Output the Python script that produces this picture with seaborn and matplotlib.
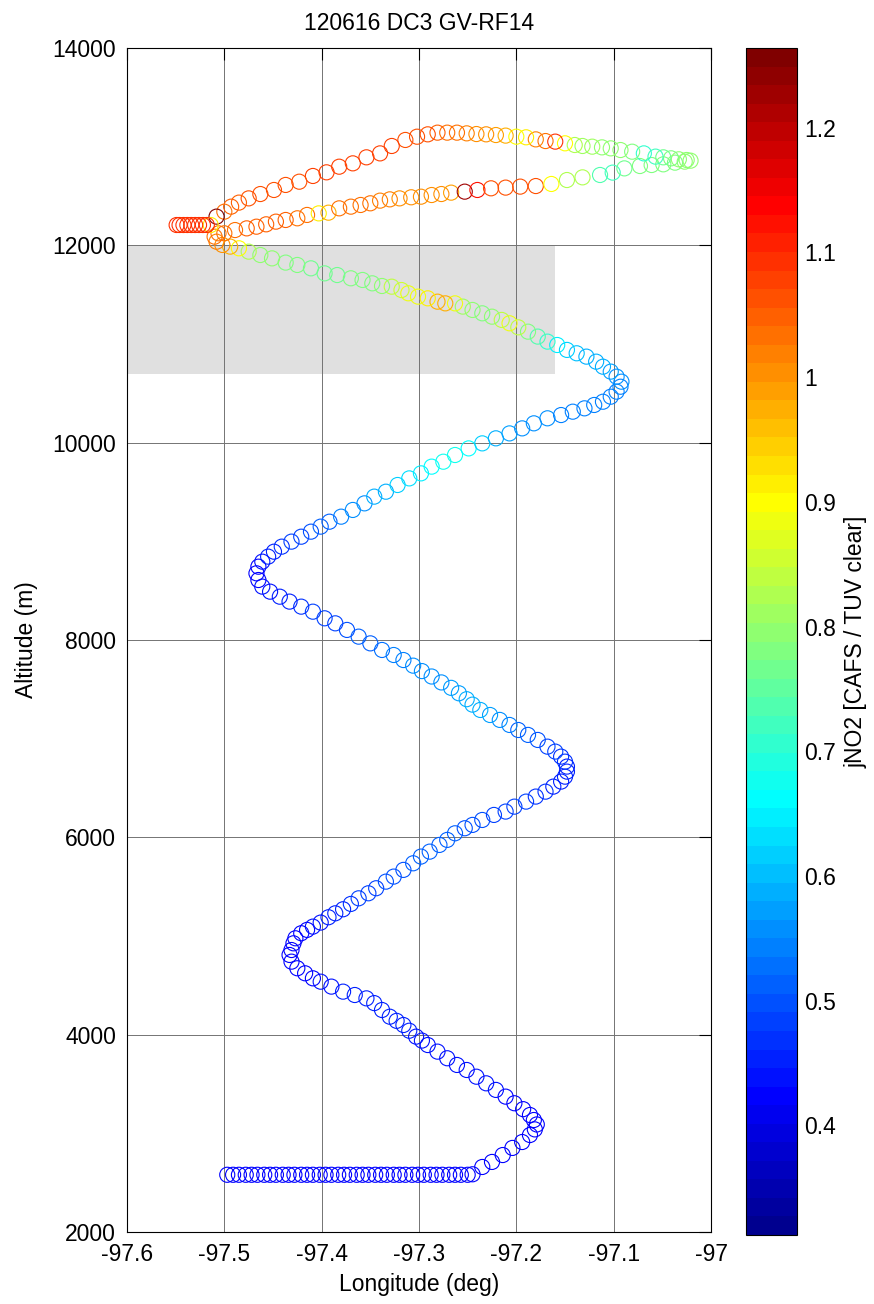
import numpy as np
import pandas as pd
import matplotlib
matplotlib.use('Agg')
import matplotlib.pyplot as plt
import seaborn as sns
from matplotlib.colors import ListedColormap, Normalize
from matplotlib.patches import Rectangle
import matplotlib.cm as cm

# flight legs: (longitude, altitude m, jNO2 ratio)
leg_bottom = [
    (-97.497, 2580, 0.42), (-97.491, 2580, 0.42), (-97.485, 2580, 0.42), (-97.478, 2580, 0.42),
    (-97.472, 2580, 0.42), (-97.466, 2580, 0.42), (-97.459, 2580, 0.42), (-97.453, 2580, 0.42),
    (-97.447, 2580, 0.42), (-97.440, 2580, 0.42), (-97.434, 2580, 0.42), (-97.428, 2580, 0.42),
    (-97.421, 2580, 0.42), (-97.415, 2580, 0.42), (-97.409, 2580, 0.42), (-97.402, 2580, 0.42),
    (-97.396, 2580, 0.42), (-97.390, 2580, 0.42), (-97.383, 2580, 0.42), (-97.377, 2580, 0.42),
    (-97.371, 2580, 0.42), (-97.364, 2580, 0.42), (-97.358, 2580, 0.42), (-97.352, 2580, 0.42),
    (-97.345, 2580, 0.42), (-97.339, 2580, 0.42), (-97.333, 2580, 0.42), (-97.326, 2580, 0.42),
    (-97.320, 2580, 0.42), (-97.314, 2580, 0.42), (-97.307, 2580, 0.42), (-97.301, 2580, 0.42),
    (-97.295, 2580, 0.42), (-97.288, 2580, 0.42), (-97.282, 2580, 0.42), (-97.276, 2580, 0.42),
    (-97.269, 2580, 0.42), (-97.263, 2580, 0.42), (-97.257, 2580, 0.42), (-97.250, 2580, 0.42),
    (-97.245, 2585, 0.42),
    (-97.235, 2659, 0.42), (-97.225, 2710, 0.42), (-97.214, 2780, 0.43), (-97.204, 2852, 0.43),
    (-97.194, 2912, 0.43), (-97.186, 2983, 0.43), (-97.181, 3040, 0.43), (-97.179, 3090, 0.43),
    (-97.182, 3135, 0.43), (-97.186, 3186, 0.43), (-97.193, 3245, 0.43),
]

leg_b = [
    (-97.202, 3305, 0.43), (-97.211, 3372, 0.43), (-97.221, 3440, 0.44), (-97.231, 3507, 0.44),
    (-97.241, 3574, 0.44), (-97.251, 3642, 0.44), (-97.261, 3693, 0.44), (-97.271, 3761, 0.44),
    (-97.281, 3828, 0.44), (-97.291, 3895, 0.44), (-97.297, 3940, 0.44), (-97.303, 3980, 0.44),
    (-97.310, 4040, 0.45), (-97.316, 4098, 0.45), (-97.323, 4140, 0.45), (-97.330, 4182, 0.45),
    (-97.338, 4250, 0.45), (-97.346, 4320, 0.45), (-97.354, 4368, 0.45), (-97.366, 4402, 0.45),
    (-97.378, 4436, 0.45), (-97.390, 4487, 0.44), (-97.401, 4537, 0.44), (-97.409, 4571, 0.43),
    (-97.417, 4622, 0.43), (-97.425, 4673, 0.43), (-97.431, 4740, 0.42), (-97.433, 4808, 0.42),
    (-97.431, 4858, 0.42), (-97.429, 4926, 0.42),
]

leg_c = [
    (-97.427, 4977, 0.42), (-97.421, 5028, 0.43), (-97.415, 5062, 0.43), (-97.409, 5095, 0.44),
    (-97.401, 5136, 0.44), (-97.393, 5190, 0.45), (-97.386, 5230, 0.45), (-97.378, 5271, 0.46),
    (-97.370, 5325, 0.47), (-97.362, 5382, 0.48), (-97.352, 5433, 0.49), (-97.344, 5484, 0.49),
    (-97.334, 5551, 0.50), (-97.326, 5602, 0.50), (-97.316, 5670, 0.50), (-97.306, 5737, 0.51),
    (-97.298, 5805, 0.51), (-97.289, 5855, 0.51), (-97.279, 5923, 0.51), (-97.271, 5974, 0.51),
    (-97.263, 6041, 0.51), (-97.253, 6092, 0.50), (-97.245, 6126, 0.50), (-97.235, 6176, 0.50),
    (-97.223, 6227, 0.49), (-97.211, 6261, 0.49), (-97.202, 6311, 0.48), (-97.190, 6362, 0.48),
    (-97.180, 6413, 0.47), (-97.170, 6463, 0.47), (-97.162, 6514, 0.46), (-97.154, 6565, 0.46),
    (-97.150, 6615, 0.46), (-97.148, 6666, 0.46), (-97.148, 6717, 0.46), (-97.150, 6767, 0.47),
    (-97.154, 6818, 0.47), (-97.160, 6869, 0.48),
]

leg_d = [
    (-97.168, 6919, 0.49), (-97.178, 6987, 0.50), (-97.188, 7038, 0.51), (-97.198, 7088, 0.52),
    (-97.207, 7139, 0.54), (-97.217, 7190, 0.56), (-97.227, 7240, 0.57), (-97.237, 7291, 0.58),
    (-97.245, 7345, 0.58), (-97.251, 7400, 0.58), (-97.259, 7460, 0.57), (-97.267, 7515, 0.57),
    (-97.277, 7570, 0.56), (-97.287, 7630, 0.56), (-97.297, 7685, 0.55), (-97.306, 7740, 0.55),
    (-97.316, 7797, 0.54), (-97.326, 7848, 0.54), (-97.338, 7899, 0.53), (-97.350, 7966, 0.52),
    (-97.362, 8034, 0.51), (-97.374, 8102, 0.50), (-97.386, 8169, 0.49), (-97.397, 8220, 0.48),
    (-97.409, 8287, 0.48), (-97.421, 8338, 0.47), (-97.433, 8389, 0.46), (-97.443, 8439, 0.45),
    (-97.453, 8490, 0.44), (-97.461, 8541, 0.44), (-97.465, 8608, 0.43), (-97.467, 8676, 0.43),
    (-97.465, 8743, 0.43), (-97.461, 8794, 0.44), (-97.455, 8845, 0.45),
]

leg_e = [
    (-97.449, 8895, 0.46), (-97.441, 8946, 0.47), (-97.431, 8997, 0.48), (-97.421, 9047, 0.49),
    (-97.411, 9098, 0.50), (-97.401, 9149, 0.51), (-97.392, 9199, 0.52), (-97.380, 9250, 0.54),
    (-97.368, 9318, 0.55), (-97.356, 9385, 0.56), (-97.346, 9453, 0.58), (-97.334, 9503, 0.59),
    (-97.322, 9571, 0.61), (-97.310, 9638, 0.63), (-97.298, 9689, 0.65), (-97.287, 9757, 0.66),
    (-97.275, 9807, 0.67), (-97.263, 9875, 0.67), (-97.249, 9942, 0.66), (-97.235, 9993, 0.62),
    (-97.221, 10044, 0.59), (-97.207, 10094, 0.57), (-97.194, 10145, 0.56), (-97.182, 10196, 0.55),
    (-97.168, 10247, 0.55), (-97.154, 10280, 0.54), (-97.142, 10314, 0.54), (-97.130, 10348, 0.54),
    (-97.120, 10382, 0.54), (-97.111, 10415, 0.54), (-97.103, 10466, 0.54), (-97.097, 10517, 0.54),
    (-97.093, 10567, 0.54), (-97.092, 10618, 0.55),
]

leg_f = [
    (-97.097, 10669, 0.56), (-97.103, 10720, 0.57), (-97.111, 10770, 0.58), (-97.118, 10821, 0.58),
    (-97.128, 10872, 0.59), (-97.138, 10906, 0.60), (-97.148, 10940, 0.62), (-97.158, 10990, 0.65),
    (-97.168, 11024, 0.70), (-97.178, 11075, 0.74), (-97.188, 11125, 0.78), (-97.198, 11169, 0.84),
    (-97.207, 11210, 0.88), (-97.215, 11244, 0.84), (-97.225, 11277, 0.79), (-97.235, 11311, 0.78),
    (-97.245, 11345, 0.79), (-97.255, 11379, 0.81), (-97.263, 11412, 0.88), (-97.273, 11412, 0.97),
    (-97.281, 11429, 0.98), (-97.291, 11463, 0.91), (-97.301, 11480, 0.89), (-97.311, 11514, 0.88),
    (-97.318, 11547, 0.86), (-97.328, 11581, 0.84), (-97.338, 11588, 0.79), (-97.348, 11615, 0.78),
    (-97.358, 11649, 0.78), (-97.370, 11666, 0.78), (-97.384, 11699, 0.77), (-97.397, 11716, 0.77),
    (-97.411, 11767, 0.77), (-97.425, 11801, 0.78), (-97.437, 11825, 0.78), (-97.451, 11868, 0.79),
    (-97.463, 11902, 0.80), (-97.475, 11936, 0.82), (-97.485, 11970, 0.90), (-97.494, 11987, 0.98),
    (-97.502, 12004, 1.00), (-97.508, 12037, 1.02), (-97.510, 12088, 1.03), (-97.506, 12122, 1.03),
]

leg_g = [
    (-97.500, 12122, 1.03), (-97.489, 12155, 1.04), (-97.477, 12172, 1.05), (-97.467, 12189, 1.05),
    (-97.457, 12213, 1.05), (-97.447, 12240, 1.05), (-97.437, 12257, 1.05), (-97.425, 12274, 1.04),
    (-97.415, 12308, 1.03), (-97.403, 12324, 0.92), (-97.393, 12331, 0.98), (-97.382, 12375, 1.03),
    (-97.370, 12392, 1.03), (-97.360, 12409, 1.03), (-97.350, 12426, 1.03), (-97.340, 12453, 1.02),
    (-97.330, 12466, 1.02), (-97.320, 12476, 1.01), (-97.308, 12487, 1.01), (-97.298, 12493, 1.01),
    (-97.287, 12510, 1.01), (-97.277, 12520, 1.00), (-97.267, 12534, 0.99), (-97.253, 12544, 1.22),
    (-97.240, 12561, 1.13), (-97.226, 12578, 1.07), (-97.211, 12585, 1.06), (-97.196, 12595, 1.06),
    (-97.180, 12601, 1.06), (-97.164, 12622, 0.90), (-97.148, 12662, 0.83), (-97.132, 12689, 0.82),
    (-97.114, 12713, 0.73), (-97.101, 12737, 0.72), (-97.089, 12780, 0.77), (-97.073, 12804, 0.78),
    (-97.061, 12814, 0.78), (-97.049, 12821, 0.78), (-97.037, 12838, 0.78), (-97.027, 12848, 0.79),
]

leg_h = [
    (-97.021, 12858, 0.79), (-97.025, 12865, 0.79), (-97.033, 12872, 0.79), (-97.041, 12882, 0.78),
    (-97.049, 12892, 0.76), (-97.057, 12899, 0.72), (-97.069, 12932, 0.71), (-97.081, 12949, 0.78),
    (-97.093, 12966, 0.80), (-97.103, 12983, 0.80), (-97.112, 12993, 0.80), (-97.122, 13000, 0.81),
    (-97.132, 13007, 0.81), (-97.140, 13017, 0.82), (-97.150, 13034, 0.90), (-97.160, 13051, 1.10),
    (-97.170, 13057, 1.04), (-97.180, 13074, 1.02), (-97.190, 13095, 0.92), (-97.200, 13101, 0.90),
    (-97.211, 13112, 0.97), (-97.221, 13118, 0.99), (-97.231, 13125, 1.00), (-97.241, 13128, 1.01),
    (-97.251, 13135, 1.02), (-97.261, 13142, 1.03), (-97.271, 13142, 1.04), (-97.281, 13142, 1.05),
    (-97.291, 13125, 1.06), (-97.302, 13101, 1.07), (-97.314, 13068, 1.07), (-97.328, 13007, 1.08),
    (-97.340, 12932, 1.08), (-97.354, 12892, 1.08), (-97.368, 12831, 1.08), (-97.382, 12797, 1.08),
    (-97.395, 12740, 1.08), (-97.409, 12703, 1.08), (-97.423, 12645, 1.07), (-97.437, 12612, 1.07),
    (-97.449, 12561, 1.07), (-97.463, 12520, 1.06), (-97.475, 12476, 1.06), (-97.485, 12433, 1.05),
    (-97.493, 12392, 1.05), (-97.500, 12341, 1.04), (-97.508, 12291, 1.25),
]

leg_west = [
    (-97.514, 12206, 0.92), (-97.518, 12206, 1.10), (-97.522, 12206, 1.10), (-97.526, 12206, 1.10),
    (-97.530, 12206, 1.10), (-97.534, 12206, 1.10), (-97.538, 12206, 1.10), (-97.542, 12206, 1.10),
    (-97.546, 12206, 1.10), (-97.549, 12206, 1.10),
]

xticks = [-97.6, -97.5, -97.4, -97.3, -97.2, -97.1, -97.0]
xticklabels = ['-97.6', '-97.5', '-97.4', '-97.3', '-97.2', '-97.1', '-97']
yticks = [2000, 4000, 6000, 8000, 10000, 12000, 14000]
cticks = [0.4, 0.5, 0.6, 0.7, 0.8, 0.9, 1.0, 1.1, 1.2]
cticklabels = ['0.4', '0.5', '0.6', '0.7', '0.8', '0.9', '1', '1.1', '1.2']
clim = (0.312, 1.264)
shade_lon = (-97.6, -97.16)
shade_alt = (10700, 12000)

legs = [leg_bottom, leg_b, leg_c, leg_d, leg_e, leg_f, leg_g, leg_h, leg_west]
df = pd.DataFrame([p for leg in legs for p in leg], columns=['lon', 'alt', 'jno2'])

sns.set_theme(style='white')
plt.rcParams['font.family'] = ['Liberation Sans', 'DejaVu Sans']
plt.rcParams['text.color'] = 'black'
plt.rcParams['axes.labelcolor'] = 'black'
fs = 16.5


def matlab_jet(n=64):
    # same construction as MATLAB's jet(n)
    m = int(np.ceil(n / 4))
    u = np.concatenate([np.arange(1, m + 1) / m, np.ones(m - 1), np.arange(m, 0, -1) / m])
    g = int(np.ceil(m / 2)) - (1 if n % 4 == 1 else 0) + np.arange(1, len(u) + 1) - 1
    r = g + m
    b = g - m
    J = np.zeros((n, 3))
    for col, idx in ((0, r), (1, g), (2, b)):
        ok = (idx >= 0) & (idx < n)
        J[idx[ok], col] = u[ok]
    return ListedColormap(J)


cmap = matlab_jet(64)

fig = plt.figure(figsize=(8.74, 13.04), dpi=100)
ax = fig.add_axes([127 / 874, 72 / 1304, 584 / 874, 1184 / 1304])
cax = fig.add_axes([746 / 874, 69 / 1304, 51 / 874, 1187 / 1304])

# shaded altitude band
ax.add_patch(Rectangle((shade_lon[0], shade_alt[0]), shade_lon[1] - shade_lon[0],
                       shade_alt[1] - shade_alt[0], facecolor='#e0e0e0', edgecolor='none', zorder=0.2))

sns.scatterplot(data=df, x='lon', y='alt', hue='jno2', palette=cmap, hue_norm=clim,
                legend=False, ax=ax, s=118, marker='o', linewidth=0.8, zorder=3)
pts = ax.collections[-1]
pts.set_edgecolors(pts.get_facecolors())
pts.set_facecolors('none')

ax.set_xlim(-97.6, -97.0)
ax.set_ylim(2000, 14000)
ax.set_xticks(xticks)
ax.set_xticklabels(xticklabels)
ax.set_yticks(yticks)
ax.set_axisbelow(True)
ax.grid(True, color='0.45', linewidth=0.7)
ax.tick_params(direction='in', length=8.5, width=0.8, top=True, right=True,
               labelsize=fs, pad=8, colors='black')
for sp in ax.spines.values():
    sp.set_color('black')
    sp.set_linewidth(0.8)
ax.set_xlabel('Longitude (deg)', fontsize=fs, labelpad=5)
ax.set_ylabel('Altitude (m)', fontsize=fs, labelpad=10)
ax.set_title('120616 DC3 GV-RF14', fontsize=fs, pad=13)

sm = cm.ScalarMappable(norm=Normalize(*clim), cmap=cmap)
cb = fig.colorbar(sm, cax=cax)
cb.set_ticks(cticks)
cb.set_ticklabels(cticklabels)
cb.outline.set_edgecolor('black')
cb.outline.set_linewidth(0.8)
cax.tick_params(direction='in', length=5, width=0.9, left=True, right=True,
                labelsize=fs, pad=5, colors='black')
cb.set_label('jNO2 [CAFS / TUV clear]', fontsize=fs, labelpad=6)

fig.savefig('out.png', dpi=100, facecolor='white')
